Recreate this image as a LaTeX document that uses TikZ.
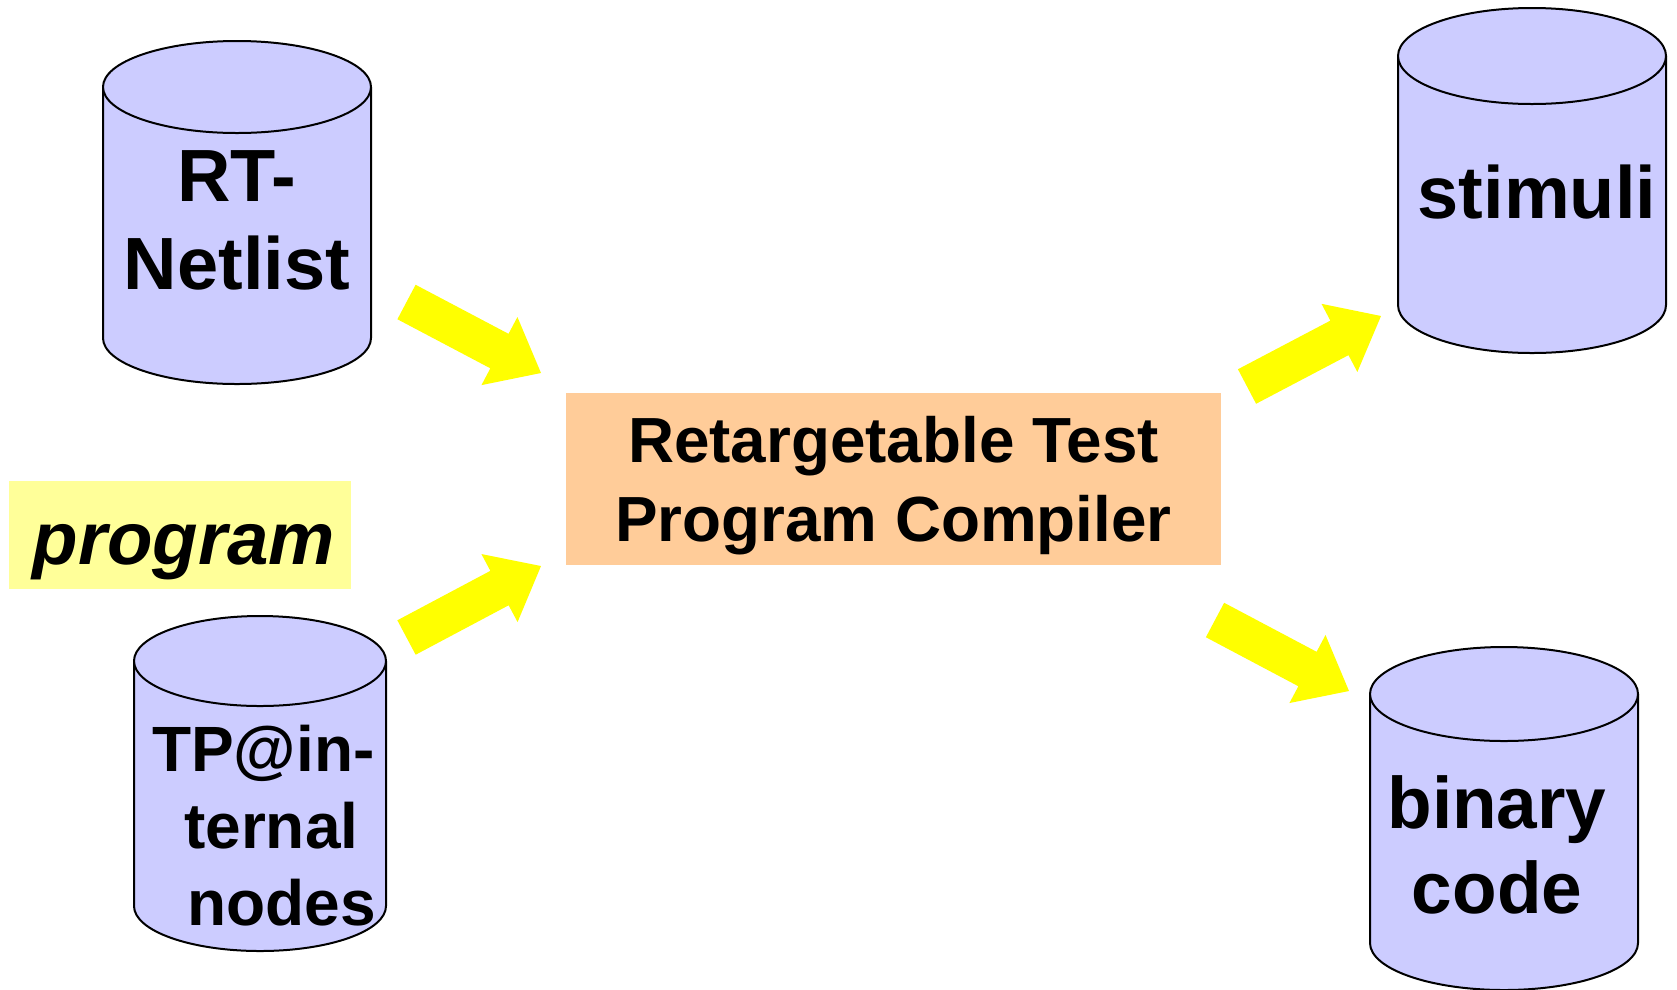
\documentclass[tikz,border=0pt]{standalone}
\usepackage{fontspec}
\setmainfont{Liberation Sans}
\usepackage{xcolor}
\usepackage{tikz}
\usetikzlibrary{calc}

\definecolor{cylblue}{HTML}{CCCCFF}
\definecolor{boxpeach}{HTML}{FFCC99}
\definecolor{notepale}{HTML}{FFFF99}
\definecolor{arrowyel}{HTML}{FFFF00}

\tikzset{
	cylbody/.style={fill=cylblue, draw=black, line width=2pt},
	dbtext/.style={inner sep=0pt, align=center, font=\fontsize{74pt}{88pt}\selectfont\bfseries},
	fatarrow/.style={fill=arrowyel}
}

% database: centre x, x radius, y radius, top y, bottom y
\newcommand{\database}[5]{%
	\filldraw[cylbody] (#1-#2,#4) -- (#1-#2,#5) arc[start angle=180, end angle=360, x radius=#2pt, y radius=#3pt] -- (#1+#2,#4) -- cycle;
	\filldraw[cylbody] (#1,#4) ellipse[x radius=#2pt, y radius=#3pt];
}

% broad arrow from tail to tip
\newcommand{\broadarrow}[2]{%
	\coordinate (#1n) at ($(#2)!47pt!(#1)$);
	\fill[fatarrow] ($(#1)!19.5pt!90:(#2)$) -- ($(#1n)!19.5pt!90:(#2)$) -- ($(#1n)!38.5pt!90:(#2)$) -- (#2)
		-- ($(#1n)!38.5pt!-90:(#2)$) -- ($(#1n)!19.5pt!-90:(#2)$) -- ($(#1)!19.5pt!-90:(#2)$) -- cycle;
}

\begin{document}
\begin{tikzpicture}[x=1pt, y=-1pt, line cap=round, line join=round]
				\useasboundingbox (0,0) rectangle (1677,989);
				% databases
				\database{237}{134}{46}{87}{338}
				\database{260}{126}{45}{661}{906}
				\database{1532}{134}{48}{56}{305}
				\database{1504}{134}{47}{694}{943}
				\node[dbtext] (netlist) at (237,220.5) {RT-\\Netlist};
				\node[dbtext, align=left, anchor=west, font=\fontsize{64pt}{77pt}\selectfont\bfseries] (tpnodes) at (152,825.5)
					{TP@in-\\\hspace*{32pt}ternal\\\hspace*{35pt}nodes};
				\node[dbtext, anchor=base] (stimuli) at (1537,218) {stimuli};
				\node[dbtext, font=\fontsize{73pt}{85pt}\selectfont\bfseries] (bincode) at (1497,845) {binary\\code};
				% compiler and note
				\node[fill=boxpeach, minimum width=655pt, minimum height=172pt, inner sep=0pt] (rtpc) at (893.5,479) {};
				\node[inner sep=0pt, align=center, font=\fontsize{63.8pt}{79pt}\selectfont\bfseries] (rtpctext) at ($(rtpc.center)+(0,7)$)
					{Retargetable Test\\Program Compiler};
				\node[fill=notepale, minimum width=342pt, minimum height=108pt, inner sep=0pt, text height=68pt, text depth=10pt,
					font=\fontsize{74.5pt}{88pt}\selectfont\bfseries\itshape] (program) at (180,535) {\hspace*{8pt}program};
				% arrows
				\coordinate (netTail) at (406.5,302);
				\coordinate (netTip) at (541,373);
				\coordinate (tpTail) at (406.5,637.5);
				\coordinate (tpTip) at (541,566);
				\coordinate (stimTail) at (1247,386.5);
				\coordinate (stimTip) at (1381,316);
				\coordinate (binTail) at (1215,620);
				\coordinate (binTip) at (1349,691);
				\broadarrow{netTail}{netTip}
				\broadarrow{tpTail}{tpTip}
				\broadarrow{stimTail}{stimTip}
				\broadarrow{binTail}{binTip}
			\end{tikzpicture}
\end{document}
